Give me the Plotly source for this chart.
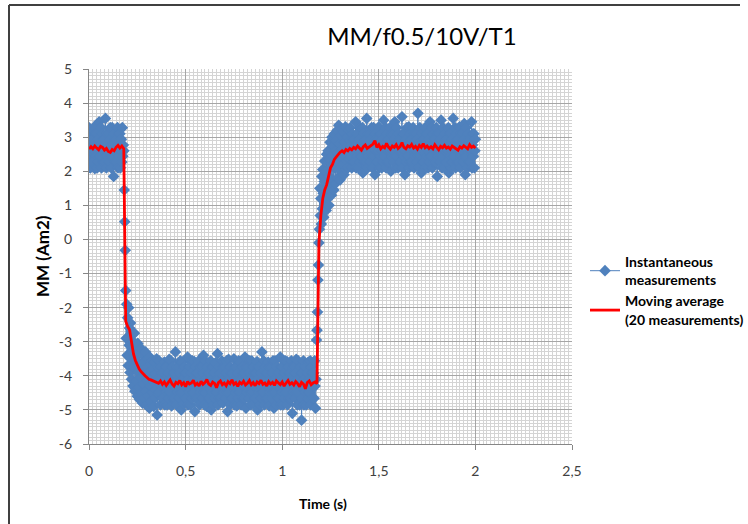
import plotly.graph_objects as go
import numpy as np

# ---------------- data ----------------
# Instantaneous measurements, one sample every 0.0025 s starting at t = 0
inst_high1 = [
    3.28, 2.44, 2.77, 2.1, 3.1, 2.6, 2.94, 2.27,
    2.27, 2.94, 2.6, 3.3, 2.08, 2.77, 3.12, 2.44,
    3.1, 2.1, 2.6, 2.94, 2.27, 3.45, 2.44, 2.77,
    2.44, 3.28, 2.1, 2.77, 3.1, 2.27, 2.94, 2.6,
    2.94, 2.27, 3.55, 2.6, 2.1, 3.1, 2.44, 2.77,
    2.6, 3.1, 2.27, 2.94, 3.28, 2.44, 2.1, 2.77,
    3.28, 2.44, 2.77, 1.85, 3.1, 2.6, 2.94, 2.27,
    2.27, 2.94, 2.6, 3.28, 2.1, 2.77, 3.1, 2.44,
    3.1, 2.1, 2.6, 2.94, 2.27, 3.28, 2.44, 2.77,
    2.6]
inst_step_down = [1.45, 0.52, -0.32]
inst_drop = [
    -1.5, -2.9, -1.9, -3.4, -2.3, -3.7, -2.0, -3.1, -2.6, -3.9,
    -2.45, -3.5, -4.1, -2.8, -3.3, -4.3, -3.0, -3.75, -2.75, -4.45,
    -3.45, -3.15, -4.15, -3.6, -4.6, -3.05, -3.9, -4.35, -3.3, -4.7,
    -3.65, -4.05, -3.2, -4.5, -3.85, -4.8, -3.4, -4.25, -3.6, -4.65,
    -3.95, -3.3, -4.45, -4.85, -3.75, -4.15, -3.5, -4.6, -3.9, -4.95,
    -3.45, -4.3, -3.65, -4.75, -4.05, -3.55, -4.5, -3.8, -4.9, -4.2,
    -3.6, -4.65, -3.95, -4.4, -3.5, -5.15, -4.1, -3.75, -4.55]
inst_low = [
    -3.56, -4.48, -4.1, -4.85, -3.74, -4.3, -3.92, -4.66,
    -4.66, -3.92, -4.3, -3.6, -4.85, -4.1, -3.74, -4.48,
    -3.74, -4.85, -4.3, -3.92, -4.66, -3.52, -4.48, -4.1,
    -4.48, -3.56, -4.88, -4.1, -3.74, -4.66, -3.92, -4.3,
    -3.92, -4.66, -3.3, -4.3, -4.85, -3.74, -4.48, -4.1,
    -4.3, -3.74, -4.66, -3.92, -3.56, -4.48, -5.0, -4.1,
    -3.6, -4.48, -4.1, -4.82, -3.74, -4.3, -3.92, -4.66,
    -4.66, -3.92, -4.3, -3.45, -4.85, -4.1, -3.74, -4.48,
    -3.74, -4.85, -4.3, -3.92, -4.66, -3.56, -4.48, -4.1,
    -4.48, -3.58, -5.05, -4.1, -3.74, -4.66, -3.92, -4.3,
    -3.92, -4.66, -3.56, -4.3, -4.85, -3.74, -4.48, -4.1,
    -4.3, -3.74, -4.66, -3.92, -3.4, -4.48, -4.85, -4.1,
    -3.56, -4.48, -4.1, -4.9, -3.74, -4.3, -3.92, -4.66,
    -4.66, -3.92, -4.3, -3.56, -5.0, -4.1, -3.74, -4.48,
    -3.74, -4.85, -4.3, -3.92, -4.66, -3.62, -4.48, -4.1,
    -4.48, -3.35, -4.85, -4.1, -3.74, -4.66, -3.92, -4.3,
    -3.92, -4.66, -3.56, -4.3, -4.8, -3.74, -4.48, -4.1,
    -4.3, -3.74, -4.66, -3.92, -3.56, -4.48, -5.05, -4.1,
    -3.52, -4.48, -4.1, -4.85, -3.74, -4.3, -3.92, -4.66,
    -4.66, -3.92, -4.3, -3.5, -4.85, -4.1, -3.74, -4.48,
    -3.74, -4.88, -4.3, -3.92, -4.66, -3.56, -4.48, -4.1,
    -4.48, -3.6, -4.85, -4.1, -3.74, -4.66, -3.92, -4.3,
    -3.92, -4.66, -3.45, -4.3, -4.95, -3.74, -4.48, -4.1,
    -4.3, -3.74, -4.66, -3.92, -3.56, -4.48, -4.85, -4.1,
    -3.56, -4.48, -4.1, -4.82, -3.74, -4.3, -3.92, -4.66,
    -4.66, -3.92, -4.3, -3.58, -5.0, -4.1, -3.74, -4.48,
    -3.74, -4.85, -4.3, -3.92, -4.66, -3.3, -4.48, -4.1,
    -4.48, -3.56, -4.85, -4.1, -3.74, -4.66, -3.92, -4.3,
    -3.92, -4.66, -3.6, -4.3, -4.88, -3.74, -4.48, -4.1,
    -4.3, -3.74, -4.66, -3.92, -3.56, -4.48, -4.95, -4.1,
    -3.56, -4.48, -4.1, -4.85, -3.74, -4.3, -3.92, -4.66,
    -4.66, -3.92, -4.3, -3.45, -4.85, -4.1, -3.74, -4.48,
    -3.74, -4.85, -4.3, -3.92, -4.66, -3.56, -4.48, -4.1,
    -4.48, -3.58, -4.85, -4.1, -3.74, -4.66, -3.92, -4.3,
    -3.92, -4.66, -3.56, -4.3, -5.1, -3.74, -4.48, -4.1,
    -4.3, -3.74, -4.66, -3.92, -3.52, -4.48, -4.85, -4.1,
    -3.56, -4.48, -4.1, -4.85, -3.74, -4.3, -3.92, -5.3,
    -4.66, -3.92, -4.3, -3.56, -4.85, -4.1, -3.74, -4.48,
    -3.74, -4.85, -4.3, -3.92, -4.66, -3.6, -4.48, -4.1,
    -4.48, -3.56, -4.85, -4.1, -3.74, -4.66, -3.92, -4.3,
    -3.92, -4.66, -3.56, -4.3, -4.95, -4.1]
inst_step_up = [-2.95, -2.66, -2.13, -1.19, -0.75, -0.1]
inst_rise = [
    0.3, 1.5, 0.7, 1.2, 0.45, 1.85, 0.9, 2.05, 1.35, 0.65,
    1.7, 2.3, 1.05, 2.0, 0.85, 2.5, 1.5, 1.2, 2.6, 1.85,
    1.0, 2.35, 2.85, 1.6, 2.15, 1.3, 3.0, 2.45, 1.75, 2.75,
    1.45, 3.1, 2.1, 2.6, 1.65, 2.9, 2.3, 3.2, 1.8, 2.55,
    3.35, 2.05, 2.8, 1.75, 3.05, 2.4, 3.25, 1.95, 2.65, 2.2,
    3.15, 1.9, 2.85, 2.45, 3.3, 2.05, 2.7, 2.3, 3.0, 2.1,
    2.6, 3.2, 2.35, 2.9]
inst_high2 = [
    3.28, 2.44, 2.77, 2.1, 3.1, 2.6, 2.94, 2.27,
    2.27, 2.94, 2.6, 3.45, 2.1, 2.77, 3.1, 2.44,
    3.1, 2.1, 2.6, 2.94, 2.27, 3.28, 2.44, 2.77,
    2.44, 3.28, 1.95, 2.77, 3.1, 2.27, 2.94, 2.6,
    2.94, 2.27, 3.55, 2.6, 2.1, 3.1, 2.44, 2.77,
    2.6, 3.1, 2.27, 2.94, 3.28, 2.44, 2.1, 2.77,
    3.28, 2.44, 2.77, 1.9, 3.1, 2.6, 2.94, 2.27,
    2.27, 2.94, 2.6, 3.3, 2.1, 2.77, 3.1, 2.44,
    3.1, 2.1, 2.6, 2.94, 2.27, 3.5, 2.44, 2.77,
    2.44, 3.28, 2.1, 2.77, 3.1, 2.27, 2.94, 2.6,
    2.94, 2.27, 3.28, 2.6, 2.0, 3.1, 2.44, 2.77,
    2.6, 3.1, 2.27, 2.94, 3.45, 2.44, 2.1, 2.77,
    3.28, 2.44, 2.77, 2.1, 3.1, 2.6, 2.94, 2.27,
    2.27, 2.94, 2.6, 3.6, 2.1, 2.77, 3.1, 2.44,
    3.1, 1.9, 2.6, 2.94, 2.27, 3.28, 2.44, 2.77,
    2.44, 3.3, 2.1, 2.77, 3.1, 2.27, 2.94, 2.6,
    2.94, 2.27, 3.28, 2.6, 2.1, 3.1, 2.44, 2.77,
    2.6, 3.1, 2.27, 2.94, 3.7, 2.44, 2.1, 2.77,
    3.28, 2.44, 2.77, 1.95, 3.1, 2.6, 2.94, 2.27,
    2.27, 2.94, 2.6, 3.28, 2.1, 2.77, 3.1, 2.44,
    3.1, 2.1, 2.6, 2.94, 2.27, 3.45, 2.44, 2.77,
    2.44, 3.28, 2.1, 2.77, 3.1, 2.27, 2.94, 2.6,
    2.94, 2.27, 3.28, 2.6, 1.85, 3.1, 2.44, 2.77,
    2.6, 3.1, 2.27, 2.94, 3.5, 2.44, 2.1, 2.77,
    3.28, 2.44, 2.77, 2.1, 3.1, 2.6, 2.94, 2.27,
    2.27, 2.94, 2.6, 3.28, 1.95, 2.77, 3.1, 2.44,
    3.1, 2.1, 2.6, 2.94, 2.27, 3.55, 2.44, 2.77,
    2.44, 3.28, 2.1, 2.77, 3.1, 2.27, 2.94, 2.6,
    2.94, 2.27, 3.3, 2.6, 2.1, 3.1, 2.44, 2.77,
    2.6, 3.1, 2.27, 2.94, 3.4, 2.44, 1.9, 2.77,
    3.28, 2.44, 2.77, 2.1, 3.1, 2.6, 2.94, 2.27,
    2.27, 2.94, 2.6, 3.45, 2.1, 2.77, 3.1, 2.44,
    3.1, 2.1, 2.6, 2.94]
inst_dt = 0.0025

# Moving average (20 measurements), read every 0.01 s from t = 0
avg_high1 = [2.65, 2.72, 2.66, 2.74, 2.68, 2.63, 2.73, 2.7, 2.62, 2.67,
             2.58, 2.55, 2.64, 2.6, 2.7, 2.76, 2.68, 2.74, 2.66]
avg_drop = [-2.4, -2.55, -2.65, -3.0, -3.35, -3.55, -3.7, -3.8, -3.88, -3.95,
            -4.0, -4.05, -4.1, -4.12, -4.15, -4.18, -4.2]
avg_low = [-4.22, -4.15, -4.25, -4.18, -4.28, -4.2, -4.12, -4.24, -4.3, -4.19,
           -4.23, -4.14, -4.26, -4.2, -4.32, -4.17, -4.24, -4.21, -4.13, -4.27,
           -4.22, -4.3, -4.16, -4.25, -4.2, -4.11, -4.24, -4.28, -4.18, -4.22,
           -4.35, -4.2, -4.15, -4.26, -4.21, -4.29, -4.17, -4.23, -4.12, -4.25,
           -4.2, -4.31, -4.19, -4.24, -4.16, -4.27, -4.22, -4.14, -4.26, -4.2,
           -4.29, -4.18, -4.23, -4.13, -4.25, -4.21, -4.3, -4.17, -4.24, -4.19,
           -4.28, -4.15, -4.22, -4.26, -4.18, -4.3, -4.21, -4.14, -4.25, -4.2,
           -4.27, -4.17, -4.23, -4.32, -4.19, -4.24, -4.38, -4.2, -4.15, -4.26,
           -4.21, -4.18, -4.23]
avg_rise = [-0.1, 0.7, 1.2, 1.45, 1.6, 1.85, 2.1, 2.2, 2.35, 2.42,
            2.5, 2.56, 2.6, 2.55, 2.64, 2.6, 2.67]
avg_high2 = [2.63, 2.7, 2.66, 2.74, 2.68, 2.62, 2.72, 2.77, 2.67, 2.71,
             2.75, 2.8, 2.9, 2.7, 2.78, 2.66, 2.73, 2.69, 2.82, 2.71,
             2.65, 2.74, 2.7, 2.78, 2.67, 2.72, 2.84, 2.7, 2.66, 2.75,
             2.71, 2.79, 2.68, 2.73, 2.65, 2.76, 2.7, 2.81, 2.69, 2.74,
             2.67, 2.72, 2.66, 2.78, 2.7, 2.63, 2.73, 2.69, 2.76, 2.68,
             2.71, 2.65, 2.74, 2.7, 2.67, 2.62, 2.72, 2.68, 2.75, 2.7,
             2.66, 2.78, 2.7, 2.74, 2.68]
avg_dt = 0.01

x_tick_vals = [0, 0.5, 1, 1.5, 2, 2.5]
x_tick_text = ["0", "0,5", "1", "1,5", "2", "2,5"]
y_tick_vals = [5, 4, 3, 2, 1, 0, -1, -2, -3, -4, -5, -6]
y_tick_text = ["5", "4", "3", "2", "1", "0", "-1", "-2", "-3", "-4", "-5", "-6"]

title_text = "MM/f0.5/10V/T1"
x_title = "Time (s)"
y_title = "MM (Am2)"
name_inst = "Instantaneous<br>measurements"
name_avg = "Moving average<br>(20 measurements)"

# ---------------- build ----------------
inst = inst_high1 + inst_step_down + inst_drop + inst_low + inst_step_up + inst_rise + inst_high2
avg = avg_high1 + avg_drop + avg_low + avg_rise + avg_high2
t_inst = np.round(np.arange(len(inst)) * inst_dt, 5)
t_avg = np.round(np.arange(len(avg)) * avg_dt, 5)

FONT = "Lato, 'Open Sans', sans-serif"
BLUE = "#4F81BD"

fig = go.Figure()
fig.add_trace(go.Scatter(
    x=t_inst, y=inst, mode="lines+markers", name=name_inst,
    marker=dict(symbol="diamond", size=9, color=BLUE, line=dict(width=0)),
    line=dict(color=BLUE, width=1),
))
fig.add_trace(go.Scatter(
    x=t_avg, y=avg, mode="lines", name=name_avg,
    line=dict(color="#FF0000", width=2.8),
))

axis_common = dict(
    showline=True, linecolor="#868686", linewidth=1,
    ticks="outside", ticklen=5, tickcolor="#868686",
    showgrid=True, gridcolor="#A6A6A6", gridwidth=1,
    zeroline=False, mirror=False,
    tickfont=dict(family=FONT, size=14, color="#404040"),
)

fig.update_xaxes(
    range=[0, 2.5], tickmode="array", tickvals=x_tick_vals, ticktext=x_tick_text,
    minor=dict(dtick=0.02, showgrid=True, gridcolor="#D4D4D4", gridwidth=1),
    ticklabelstandoff=9,
    **axis_common,
)
fig.update_yaxes(
    range=[-6, 5], tickmode="array", tickvals=y_tick_vals, ticktext=y_tick_text,
    minor=dict(dtick=0.1, showgrid=True, gridcolor="#D4D4D4", gridwidth=1),
    ticklabelstandoff=8,
    **axis_common,
)

L, R, T, B = 89, 176, 69, 80
W, H = 748, 524
pw, ph = W - L - R, H - T - B

def px(x):
    return (x - L) / pw

def py(y):
    return (H - B - y) / ph

fig.update_layout(
    width=W, height=H,
    margin=dict(l=L, r=R, t=T, b=B, autoexpand=False),
    paper_bgcolor="white", plot_bgcolor="white",
    font=dict(family=FONT, color="#000000"),
    title=dict(text=title_text, x=422 / W, xref="container", xanchor="center",
               y=1 - 37 / H, yref="container", yanchor="middle",
               font=dict(family=FONT, size=24, color="#000000")),
    showlegend=True,
    legend=dict(x=px(585), xanchor="left", y=py(246), yanchor="top",
                font=dict(family=FONT, size=14, color="#000000", weight="bold"),
                bgcolor="rgba(0,0,0,0)", tracegroupgap=6, itemwidth=30),
    annotations=[
        dict(text="<b>%s</b>" % y_title, xref="paper", yref="paper",
             x=px(42), y=py(256), textangle=-90, showarrow=False,
             xanchor="center", yanchor="middle",
             font=dict(family=FONT, size=17, color="#000000")),
        dict(text="<b>%s</b>" % x_title, xref="paper", yref="paper",
             x=px(323), y=py(503), showarrow=False,
             xanchor="center", yanchor="middle",
             font=dict(family=FONT, size=14, color="#000000")),
    ],
    shapes=[
        dict(type="line", xref="paper", yref="paper", x0=px(9), x1=px(740),
             y0=py(5), y1=py(5), line=dict(color="#404040", width=2)),
        dict(type="line", xref="paper", yref="paper", x0=px(9), x1=px(9),
             y0=py(5), y1=py(524), line=dict(color="#404040", width=2)),
    ],
)

fig.write_html("out.html")
